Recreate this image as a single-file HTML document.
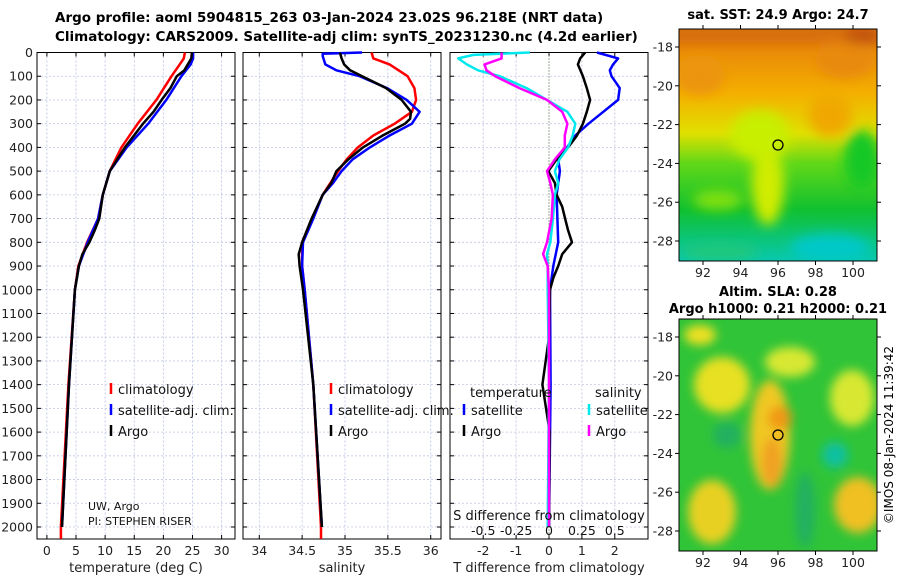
<!DOCTYPE html>
<html><head><meta charset="utf-8">
<style>
body{margin:0;background:#fff;width:900px;height:580px;overflow:hidden;font-family:"Liberation Sans","DejaVu Sans",sans-serif;}
svg text{font-family:"DejaVu Sans","Liberation Sans",sans-serif;}
</style></head><body>
<svg id="fig" width="900" height="580" xmlns="http://www.w3.org/2000/svg">
<defs>
<filter id="blur1" x="-30%" y="-30%" width="160%" height="160%"><feGaussianBlur stdDeviation="6"/></filter>
<filter id="blur2" x="-30%" y="-30%" width="160%" height="160%"><feGaussianBlur stdDeviation="5"/></filter>
<clipPath id="cm1"><rect x="679" y="29" width="198" height="232"/></clipPath>
<clipPath id="cm2"><rect x="679" y="319" width="198" height="232"/></clipPath>
<linearGradient id="sstg" x1="0" y1="0" x2="0" y2="1">
<stop offset="0" stop-color="#d86a08"/><stop offset="0.1" stop-color="#ea8c08"/>
<stop offset="0.28" stop-color="#f4b000"/><stop offset="0.45" stop-color="#e0e000"/>
<stop offset="0.58" stop-color="#60d818"/><stop offset="0.78" stop-color="#10c030"/>
<stop offset="1" stop-color="#08c8b0"/></linearGradient>
</defs>
<text x="55" y="22" font-size="13.5" font-weight="bold">Argo profile: aoml 5904815_263 03-Jan-2024 23.02S 96.218E (NRT data)</text>
<text x="55" y="41" font-size="13.5" font-weight="bold">Climatology: CARS2009. Satellite-adj clim: synTS_20231230.nc (4.2d earlier)</text>
<g id="panels"></g>

<!-- Map 1 -->
<g>
<text x="778" y="19" font-size="13" font-weight="bold" text-anchor="middle">sat. SST: 24.9 Argo: 24.7</text>
<g clip-path="url(#cm1)">
<rect x="679" y="29" width="198" height="232" fill="url(#sstg)"/>
<g filter="url(#blur1)">
<rect x="670" y="20" width="220" height="22" fill="#d87010"/>
<ellipse cx="700" cy="75" rx="25" ry="20" fill="#ec9408"/>
<ellipse cx="845" cy="60" rx="30" ry="18" fill="#e88a08"/>
<ellipse cx="830" cy="115" rx="22" ry="22" fill="#f0a800"/>
<ellipse cx="768" cy="185" rx="16" ry="40" fill="#d0ec00"/>
<ellipse cx="760" cy="135" rx="30" ry="25" fill="#c8ee00"/>
<ellipse cx="718" cy="200" rx="25" ry="10" fill="#80e010"/>
<ellipse cx="862" cy="160" rx="18" ry="30" fill="#18c828"/>
<ellipse cx="830" cy="248" rx="40" ry="14" fill="#00c8c8"/>
<ellipse cx="720" cy="252" rx="40" ry="8" fill="#20c878"/>
<ellipse cx="862" cy="36" rx="18" ry="8" fill="#c05008"/>
</g></g>
<rect x="679" y="29" width="198" height="232" fill="none" stroke="#000"/>
<circle cx="778" cy="145" r="5" fill="none" stroke="#000" stroke-width="1.3"/>
</g>

<!-- Map 2 -->
<g>
<text x="778" y="296" font-size="13" font-weight="bold" text-anchor="middle">Altim. SLA: 0.28</text>
<text x="778" y="313" font-size="13" font-weight="bold" text-anchor="middle">Argo h1000: 0.21 h2000: 0.21</text>
<g clip-path="url(#cm2)">
<rect x="679" y="319" width="198" height="232" fill="#30c438"/>
<g filter="url(#blur2)">
<ellipse cx="722" cy="385" rx="28" ry="28" fill="#e8e020"/>
<ellipse cx="770" cy="435" rx="20" ry="55" fill="#f0c820"/>
<ellipse cx="772" cy="462" rx="10" ry="25" fill="#f0a020"/>
<ellipse cx="780" cy="418" rx="12" ry="12" fill="#f09818"/>
<ellipse cx="790" cy="362" rx="25" ry="15" fill="#d8e830"/>
<ellipse cx="852" cy="398" rx="22" ry="28" fill="#d8e830"/>
<ellipse cx="858" cy="505" rx="24" ry="28" fill="#f0c020"/>
<ellipse cx="712" cy="512" rx="24" ry="32" fill="#e8d020"/>
<ellipse cx="727" cy="435" rx="14" ry="13" fill="#20b060"/>
<ellipse cx="835" cy="455" rx="13" ry="13" fill="#10c0a0"/>
<ellipse cx="805" cy="510" rx="10" ry="38" fill="#20b060"/>
<ellipse cx="700" cy="335" rx="16" ry="10" fill="#f0e020"/>
</g></g>
<rect x="679" y="319" width="198" height="232" fill="none" stroke="#000"/>
<circle cx="778" cy="435" r="5" fill="none" stroke="#000" stroke-width="1.3"/>
</g>
<text transform="translate(893,435) rotate(-90)" font-size="12" text-anchor="middle">©IMOS 08-Jan-2024 11:39:42</text>
<g id="maps-axes"></g>
</svg>
<script>
// ---- depth axis ----
var depthTicks=[0,100,200,300,400,500,600,700,800,900,1000,1100,1200,1300,1400,1500,1600,1700,1800,1900,2000];
var tempTicks=[0,5,10,15,20,25,30];
var salTicks=[34,34.5,35,35.5,36];
var salTickLabels=["34","34.5","35","35.5","36"];
var tdiffTicks=[-2,-1,0,1,2];
var sdiffTicks=[-0.5,-0.25,0,0.25,0.5];
var sdiffTickLabels=["-0.5","-0.25","0","0.25","0.5"];
// temperature profiles
var tClimDepth=[0,25,50,100,200,300,400,500,600,700,800,900,1000,1400,2000,2050];
var tClim=[23.7,23.5,22.8,21.4,18.8,15.6,12.8,10.8,9.6,8.8,6.9,5.4,4.8,3.7,2.4,2.4];
var tSatDepth=[0,25,50,100,200,300,400,500,600,700,800,900,1000,1400,2000];
var tSat=[25.1,25.1,24.7,23.1,20.5,17.4,13.7,10.8,9.6,8.8,7.0,5.5,4.8,3.8,2.6];
var tArgoDepth=[0,25,50,75,100,150,200,250,300,400,500,600,700,750,800,850,900,1000,1400,2000];
var tArgo=[24.9,24.8,24.2,23.6,22.3,21.2,19.7,18.3,16.5,13.4,10.8,9.6,9.0,8.2,7.3,6.1,5.5,4.8,3.8,2.6];
// salinity profiles
var sClimDepth=[0,25,50,100,150,200,250,300,350,400,450,500,600,700,800,900,1000,1400,2000,2050];
var sClim=[35.31,35.33,35.52,35.73,35.81,35.83,35.78,35.58,35.33,35.15,35.02,34.92,34.74,34.62,34.5,34.5,34.53,34.63,34.72,34.72];
var sSatDepth=[0,5,15,50,75,100,150,200,250,300,350,400,450,500,550,600,700,800,900,1000,1400,2000];
var sSat=[35.2,34.74,34.74,34.77,34.9,35.17,35.49,35.72,35.87,35.78,35.52,35.29,35.09,34.96,34.86,34.74,34.63,34.51,34.5,34.53,34.63,34.73];
var sArgoDepth=[0,25,50,75,100,150,200,250,280,300,350,400,450,500,550,600,700,800,850,900,1000,1400,2000];
var sArgo=[34.94,34.96,34.99,35.06,35.2,35.48,35.66,35.77,35.76,35.7,35.44,35.21,35.04,34.9,34.84,34.74,34.61,34.5,34.46,34.47,34.51,34.63,34.73];
// differences
var dTSatDepth=[0,25,50,75,100,150,200,250,300,350,400,450,500,600,800,900,1000,1400,2000];
var dTSat=[1.46,2.1,1.95,1.85,1.9,2.15,2.1,1.65,1.2,0.8,0.55,0.28,0.33,0.23,0.28,0.13,0.03,0.05,0.0];
var dTArgoDepth=[0,25,50,100,150,200,250,300,350,400,450,500,550,600,650,700,750,800,850,900,950,1000,1200,1400,1600,2000];
var dTArgo=[1.1,0.95,0.88,1.03,1.15,1.25,1.15,1.03,0.85,0.58,0.23,-0.02,0.18,0.23,0.4,0.49,0.58,0.7,0.4,0.28,0.13,0.03,0.0,-0.2,0.02,0.0];
var dSSatDepth=[0,10,25,50,75,100,150,200,250,300,350,400,450,500,550,600,700,800,850,900,1000,1400,2000];
var dSSat=[-0.145,-0.575,-0.69,-0.625,-0.54,-0.375,-0.17,-0.015,0.14,0.2,0.18,0.145,0.08,0.045,0.07,0.045,0.03,0.01,-0.015,-0.01,-0.01,0.0,-0.01];
var dSArgoDepth=[0,25,50,75,100,150,200,250,300,350,400,450,500,550,600,700,800,850,900,1000,1400,2000];
var dSArgo=[-0.36,-0.36,-0.49,-0.475,-0.41,-0.225,-0.015,0.1,0.14,0.12,0.12,0.045,-0.015,0.01,0.03,0.02,-0.015,-0.045,-0.01,0.0,0.0,0.0];

var NS="http://www.w3.org/2000/svg";
var TOP=52.5,BOT=539,DMAX=2050,PPD=(527-52.5)/2000;
function yD(d){return TOP+d*PPD;}
function mk(tag,attrs,parent,text){var e=document.createElementNS(NS,tag);for(var k in attrs)e.setAttribute(k,attrs[k]);if(text!==undefined)e.textContent=text;parent.appendChild(e);return e;}
var root=document.getElementById('panels');
var panels=[
 {x0:37,x1:235,vmin:-1.7,vmax:32.3,name:'temperature-panel'},
 {x0:243,x1:441,vmin:33.81,vmax:36.12,name:'salinity-panel'},
 {x0:450,x1:648,vmin:-3.01,vmax:3.01,name:'difference-panel'}];
function xf(p){return function(v){return p.x0+(v-p.vmin)/(p.vmax-p.vmin)*(p.x1-p.x0);};}
var gridCols=['#b8c0e8','#b8c0e8','#c8b8d8'];
panels.forEach(function(p,i){
 var g=mk('g',{},root);
 
 
 var X=xf(p);
 var ticks=i==0?tempTicks:(i==1?salTicks:tdiffTicks);
 depthTicks.forEach(function(d){
  mk('line',{x1:p.x0,x2:p.x1,y1:yD(d),y2:yD(d),stroke:'#c0c8e0','stroke-width':0.8,'stroke-dasharray':'2,2'},g);
  mk('line',{x1:p.x0,x2:p.x0+4,y1:yD(d),y2:yD(d),stroke:'#000'},g);
  mk('line',{x1:p.x1-4,x2:p.x1,y1:yD(d),y2:yD(d),stroke:'#000'},g);
 });
 ticks.forEach(function(t,j){
  var x=X(t);
  if(!(i==2&&t==0)) mk('line',{x1:x,x2:x,y1:TOP,y2:BOT,stroke:gridCols[i],'stroke-width':0.8,'stroke-dasharray':'2,2'},g);
  mk('line',{x1:x,x2:x,y1:BOT-4,y2:BOT,stroke:'#000'},g);
  mk('line',{x1:x,x2:x,y1:TOP,y2:TOP+4,stroke:'#000'},g);
  var lt=mk('text',{x:x,y:555,'font-size':12.5,'text-anchor':'middle',fill:'#222'},g,i==1?salTickLabels[j]:String(t));
  
  
 });
 if(i==2){
  mk('line',{x1:X(0),x2:X(0),y1:TOP,y2:BOT,stroke:'#335533','stroke-width':1,'stroke-dasharray':'1,2'},g);
 }
 mk('rect',{x:p.x0,y:TOP,width:p.x1-p.x0,height:BOT-TOP,fill:'none',stroke:'#000','stroke-width':1},g);
});
// y tick labels
depthTicks.forEach(function(d){
 var t=mk('text',{x:33,y:yD(d)+4.5,'font-size':12.5,'text-anchor':'end',fill:'#222'},root,String(d));
 
 
});
function axLabel(x,txt,name){var t=mk('text',{x:x,y:572,'font-size':13,'text-anchor':'middle',fill:'#222'},root,txt);
 
 }
axLabel(136,'temperature (deg C)','x-axis-title-temperature');
axLabel(342,'salinity','x-axis-title-salinity');
axLabel(549,'T difference from climatology','x-axis-title-difference');

function line(p,depths,vals,color,w,name,scale){
 var X=xf(p);var pts=depths.map(function(d,k){return X(vals[k]*(scale||1)).toFixed(1)+','+yD(d).toFixed(1);}).join(' ');
 var e=mk('polyline',{points:pts,fill:'none',stroke:color,'stroke-width':w,'stroke-linejoin':'round'},root);
 
 
}
line(panels[0],tClimDepth,tClim,'#f00',2.5,'temp-climatology-line');
line(panels[0],tSatDepth,tSat,'#00f',2.5,'temp-satellite-line');
line(panels[0],tArgoDepth,tArgo,'#000',2.5,'temp-argo-line');
line(panels[1],sClimDepth,sClim,'#f00',2.5,'salinity-climatology-line');
line(panels[1],sSatDepth,sSat,'#00f',2.5,'salinity-satellite-line');
line(panels[1],sArgoDepth,sArgo,'#000',2.5,'salinity-argo-line');
line(panels[2],dTSatDepth,dTSat,'#00f',2.5,'tdiff-satellite-line');
line(panels[2],dTArgoDepth,dTArgo,'#000',2.5,'tdiff-argo-line');
line(panels[2],dSSatDepth,dSSat,'#00e8ee',2.5,'sdiff-satellite-line',4);
line(panels[2],dSArgoDepth,dSArgo,'#f0f',2.5,'sdiff-argo-line',4);

// S diff axis inside panel 3
var X3=xf(panels[2]);
var st=mk('text',{x:549,y:520,'font-size':13,'text-anchor':'middle',fill:'#111'},root,'S difference from climatology');


sdiffTicks.forEach(function(s,j){
 var t=mk('text',{x:X3(s*4),y:535,'font-size':12.5,'text-anchor':'middle',fill:'#111'},root,sdiffTickLabels[j]);
 
 
});

// legends
function leg(x,y,color,txt,name){
 var g=mk('g',{},root);
 
 
 mk('line',{x1:x,x2:x,y1:y-9,y2:y+2,stroke:color,'stroke-width':2.5},g);
 mk('text',{x:x+7,y:y+2,'font-size':13,fill:'#111'},g,txt);
}
leg(111,392,'#f00','climatology','legend-temp-climatology');
leg(111,413,'#00f','satellite-adj. clim.','legend-temp-satellite');
leg(111,434,'#000','Argo','legend-temp-argo');
leg(331,392,'#f00','climatology','legend-sal-climatology');
leg(331,413,'#00f','satellite-adj. clim.','legend-sal-satellite');
leg(331,434,'#000','Argo','legend-sal-argo');
var tl=mk('text',{x:470,y:397,'font-size':13,fill:'#111'},root,'temperature');


var sl=mk('text',{x:595,y:397,'font-size':13,fill:'#111'},root,'salinity');


leg(464,413,'#00f','satellite','legend-tdiff-satellite');
leg(464,434,'#000','Argo','legend-tdiff-argo');
leg(589,413,'#00e8ee','satellite','legend-sdiff-satellite');
leg(589,434,'#f0f','Argo','legend-sdiff-argo');
var c1=mk('text',{x:88,y:510,'font-size':11,fill:'#111'},root,'UW, Argo');


var c2=mk('text',{x:88,y:525,'font-size':11,fill:'#111'},root,'PI: STEPHEN RISER');



// map axes
var lonTicks=[92,94,96,98,100];
var latTicks=[-18,-20,-22,-24,-26,-28];
var ma=document.getElementById('maps-axes');
function lonX(l){return 703+(l-92)*18.75;}
[[29,261,47,241],[319,551,337,531]].forEach(function(m,mi){
 lonTicks.forEach(function(l){
  mk('line',{x1:lonX(l),x2:lonX(l),y1:m[1],y2:m[1]+4,stroke:'#000'},ma);
  mk('line',{x1:lonX(l),x2:lonX(l),y1:m[0]-4,y2:m[0],stroke:'#000'},ma);
  var t=mk('text',{x:lonX(l),y:m[1]+16,'font-size':12.5,'text-anchor':'middle',fill:'#222'},ma,String(l));
  
  
 });
 latTicks.forEach(function(a){
  var y=m[2]+(-18-a)/10*(m[3]-m[2]);
  mk('line',{x1:675,x2:679,y1:y,y2:y,stroke:'#000'},ma);
  mk('line',{x1:877,x2:881,y1:y,y2:y,stroke:'#000'},ma);
  var t=mk('text',{x:673,y:y+4.5,'font-size':12.5,'text-anchor':'end',fill:'#222'},ma,String(a));
  
  
 });
});
</script>
</body></html>
